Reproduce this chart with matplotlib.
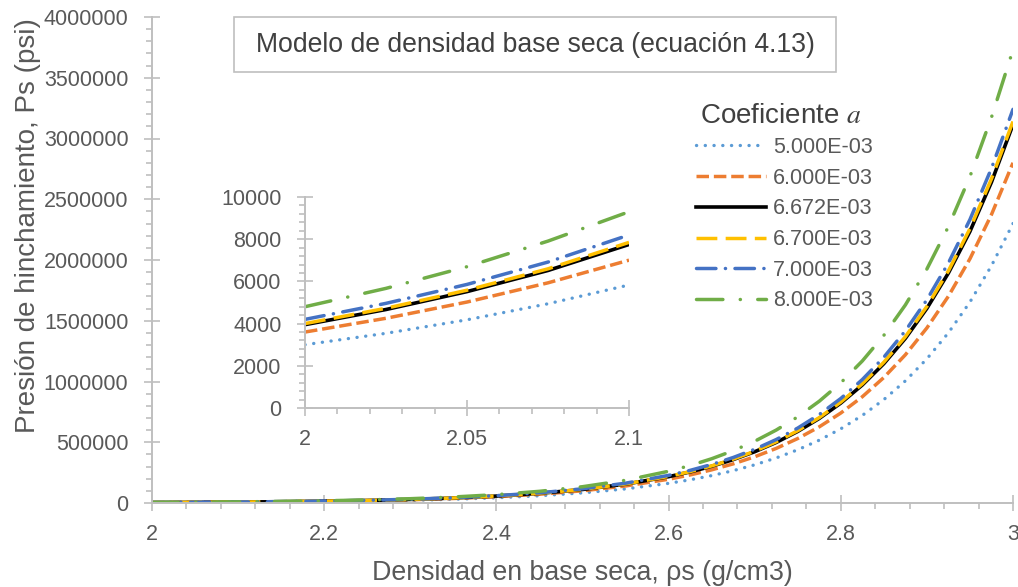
import matplotlib
matplotlib.use('Agg')
import matplotlib.pyplot as plt
from matplotlib.ticker import MultipleLocator, FuncFormatter
from matplotlib.patches import Rectangle

plt.rcParams['font.family'] = ['Liberation Sans', 'DejaVu Sans']
plt.rcParams['mathtext.fontset'] = 'stix'
plt.rcParams['lines.scale_dashes'] = False

# densidad en base seca (g/cm3)
densidad = [2.00, 2.05, 2.10, 2.15, 2.20, 2.25, 2.30, 2.35, 2.40, 2.45, 2.50,
            2.55, 2.60, 2.625, 2.65, 2.675, 2.70, 2.725, 2.75, 2.775, 2.80,
            2.825, 2.85, 2.875, 2.90, 2.925, 2.95, 2.975, 3.00]

# presion de hinchamiento (psi), una lista por coeficiente a
ps_5000 = [3000, 4180, 5830, 8130, 11330, 15800, 22000, 30700, 42800, 59700, 83200,
           116000, 161700, 190900, 225400, 266100, 314200, 371000, 438000, 517100, 610600,
           720900, 851200, 1005000, 1186600, 1401000, 1654000, 1953000, 2300000]
ps_6000 = [3600, 5022, 7006, 9773, 13630, 19020, 26530, 37010, 51630, 72020, 100500,
           140200, 195500, 230900, 272800, 322200, 380500, 449400, 530800, 626900, 740500,
           874600, 1033000, 1220000, 1441000, 1702000, 2010000, 2374000, 2800000]
ps_6672 = [3960, 5527, 7715, 10770, 15030, 20980, 29280, 40880, 57050, 79640, 111200,
           155100, 216600, 255900, 302300, 357200, 421900, 498500, 589100, 696000, 822200,
           971400, 1147000, 1355000, 1602000, 1893000, 2235000, 2641000, 3115000]
ps_6700 = [4000, 5583, 7793, 10880, 15180, 21190, 29580, 41290, 57630, 80440, 112300,
           156700, 218800, 258500, 305400, 360800, 426200, 503500, 595000, 702900, 830500,
           981100, 1159000, 1369000, 1618000, 1911000, 2258000, 2668000, 3140000]
ps_7000 = [4200, 5857, 8169, 11390, 15890, 22160, 30900, 43100, 60110, 83830, 116900,
           163000, 227400, 268500, 317100, 374500, 442300, 522300, 616800, 728400, 860200,
           1016000, 1200000, 1417000, 1673000, 1976000, 2333000, 2755000, 3240000]
ps_8000 = [4800, 6697, 9344, 13040, 18190, 25370, 35400, 49390, 68910, 96140, 134100,
           187100, 261100, 308400, 364300, 430300, 508300, 600400, 709200, 837700, 989400,
           1169000, 1380000, 1630000, 1926000, 2275000, 2687000, 3174000, 3730000]

# detalle del recuadro (2.0 - 2.1)
densidad_zoom = [2.000, 2.025, 2.050, 2.075, 2.100]
zoom_5000 = [3000, 3540, 4180, 4940, 5830]
zoom_6000 = [3600, 4252, 5022, 5932, 7006]
zoom_6672 = [3950, 4668, 5516, 6518, 7750]
zoom_6700 = [4000, 4726, 5583, 6596, 7850]
zoom_7000 = [4200, 4960, 5857, 6917, 8200]
zoom_8000 = [4800, 5670, 6697, 7910, 9300]

etiquetas = ['5.000E-03', '6.000E-03', '6.672E-03', '6.700E-03', '7.000E-03', '8.000E-03']
series = [ps_5000, ps_6000, ps_6672, ps_6700, ps_7000, ps_8000]
series_zoom = [zoom_5000, zoom_6000, zoom_6672, zoom_6700, zoom_7000, zoom_8000]

estilos = [
    dict(color='#5B9BD5', lw=2.4, dashes=(0.1, 6.2), dash_capstyle='round'),
    dict(color='#ED7D31', lw=2.5, dashes=(9.0, 3.5), dash_capstyle='butt'),
    dict(color='#000000', lw=2.6, linestyle='-'),
    dict(color='#FFC000', lw=2.5, dashes=(15.0, 6.0), dash_capstyle='butt'),
    dict(color='#4472C4', lw=2.5, dashes=(14.0, 6.8, 0.1, 6.8), dash_capstyle='round'),
    dict(color='#70AD47', lw=2.5, dashes=(19.0, 12.5, 0.1, 12.5), dash_capstyle='round'),
]

gris = '#bfbfbf'
texto = '#595959'
W, H = 1018, 587


def estilo_ejes(ax, fs):
    for s in ['top', 'right']:
        ax.spines[s].set_visible(False)
    for s in ['left', 'bottom']:
        ax.spines[s].set_color(gris)
        ax.spines[s].set_linewidth(1.4)
    ax.tick_params(which='major', direction='inout', length=11, width=1.2, color=gris,
                   labelsize=fs, labelcolor=texto)
    ax.tick_params(which='minor', direction='out', length=4.5, width=1.2, color=gris)
    ax.tick_params(axis='y', which='major', pad=11.5)
    ax.tick_params(axis='x', which='major', pad=9.5)


fig = plt.figure(figsize=(W / 100, H / 100), dpi=100)

ax = fig.add_axes([152 / W, 1 - 503 / H, (1013 - 152) / W, (503 - 17) / H])
for y, st, lab in zip(series, estilos, etiquetas):
    ax.plot(densidad, y, label=lab, **st)
ax.set_xlim(2, 3)
ax.set_ylim(0, 4000000)
ax.xaxis.set_major_locator(MultipleLocator(0.2))
ax.xaxis.set_minor_locator(MultipleLocator(0.04))
ax.yaxis.set_major_locator(MultipleLocator(500000))
ax.yaxis.set_minor_locator(MultipleLocator(100000))
ax.xaxis.set_major_formatter(FuncFormatter(lambda v, p: f'{v:g}'))
ax.yaxis.set_major_formatter(FuncFormatter(lambda v, p: f'{v:.0f}'))
estilo_ejes(ax, 15.5)

fig.text(582.5 / W, 1 - 573 / H, 'Densidad en base seca, ρs (g/cm3)', ha='center', va='center',
         fontsize=19.3, color=texto)
fig.text(28 / W, 1 - 226 / H, 'Presión de hinchamiento, Ps (psi)', ha='center', va='center',
         rotation=90, fontsize=20, color=texto)

# recuadro del titulo
fig.patches.append(Rectangle((234 / W, 1 - 72 / H), (836 - 234) / W, (72 - 17) / H,
                             transform=fig.transFigure, facecolor='white', edgecolor=gris,
                             lw=1.2, zorder=5))
fig.text(535 / W, 1 - 45 / H, 'Modelo de densidad base seca (ecuación 4.13)', ha='center',
         va='center', fontsize=19.2, color='#404040', zorder=6)

# leyenda (titulo aparte para ajustar la separacion)
fig.text(781 / W, 1 - 116 / H, 'Coeficiente $a$', ha='center', va='center',
         fontsize=20, color='#404040')
leg = ax.legend(loc='upper left', bbox_to_anchor=(696 / W, 1 - 137 / H),
                bbox_transform=fig.transFigure, frameon=False, fontsize=15.5,
                borderpad=0, borderaxespad=0,
                handlelength=3.25, handletextpad=0.33, labelspacing=0.45)
for t in leg.get_texts():
    t.set_color(texto)

# grafico interior
ax2 = fig.add_axes([305 / W, 1 - 408 / H, (629 - 305) / W, (408 - 197) / H])
for y, st in zip(series_zoom, estilos):
    ax2.plot(densidad_zoom, y, **st)
ax2.set_xlim(2, 2.1)
ax2.set_ylim(0, 10000)
ax2.xaxis.set_major_locator(MultipleLocator(0.05))
ax2.xaxis.set_minor_locator(MultipleLocator(0.01))
ax2.yaxis.set_major_locator(MultipleLocator(2000))
ax2.yaxis.set_minor_locator(MultipleLocator(400))
ax2.xaxis.set_major_formatter(FuncFormatter(lambda v, p: f'{v:g}'))
ax2.yaxis.set_major_formatter(FuncFormatter(lambda v, p: f'{v:.0f}'))
estilo_ejes(ax2, 15.5)

fig.savefig('out.png', dpi=100)
